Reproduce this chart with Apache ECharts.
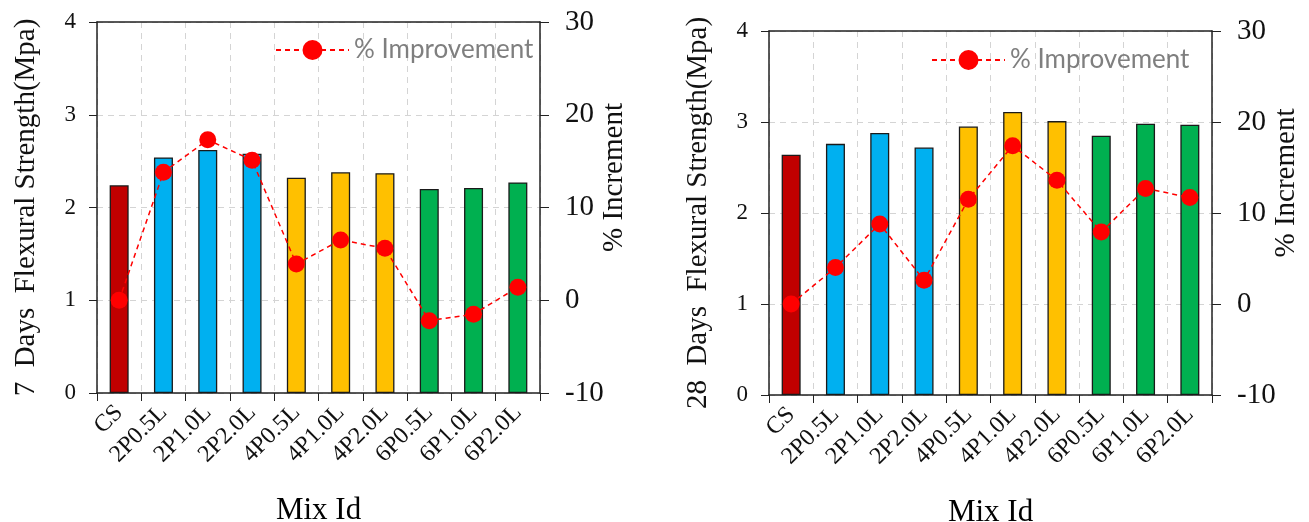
<!DOCTYPE html>
<html>
<head>
<meta charset="utf-8">
<script src="https://cdn.jsdelivr.net/npm/echarts@6/dist/echarts.min.js"></script>
<style>
  html, body { margin: 0; padding: 0; background: #fff; }
  #container { width: 1309px; height: 522px; }
</style>
</head>
<body>
<div id="container"></div>
<script>
var mixIds = ['CS', '2P0.5L', '2P1.0L', '2P2.0L', '4P0.5L', '4P1.0L', '4P2.0L', '6P0.5L', '6P1.0L', '6P2.0L'];

// 7 days
var strength7 = [2.24, 2.54, 2.62, 2.58, 2.32, 2.38, 2.37, 2.20, 2.21, 2.27];
var improve7 = [0, 13.8, 17.3, 15.1, 3.9, 6.5, 5.6, -2.2, -1.5, 1.4];

// 28 days
var strength28 = [2.64, 2.76, 2.88, 2.72, 2.95, 3.11, 3.01, 2.85, 2.98, 2.97];
var improve28 = [0, 4.0, 8.8, 2.6, 11.5, 17.4, 13.6, 7.9, 12.7, 11.7];

var barColors = ['#c00000', '#00b0f0', '#00b0f0', '#00b0f0', '#ffc000', '#ffc000', '#ffc000', '#00b050', '#00b050', '#00b050'];

var serif = 'Liberation Serif';

function barData(vals) {
    return vals.map(function (v, i) {
        return { value: v, itemStyle: { color: barColors[i] } };
    });
}

function xAxisCfg(gi) {
    return {
        type: 'category',
        gridIndex: gi,
        data: mixIds,
        name: 'Mix Id',
        nameLocation: 'middle',
        nameGap: 102,
        nameTextStyle: { fontFamily: serif, fontSize: 31, color: '#000' },
        axisLine: { onZero: false, lineStyle: { color: '#222', width: 1.5 } },
        axisTick: { show: true, length: 8, inside: false, lineStyle: { color: '#222' } },
        axisLabel: { rotate: 45, fontFamily: serif, fontSize: 24, color: '#111', margin: 16, interval: 0 },
        splitLine: { show: true, lineStyle: { color: '#d4d4d4', type: [6, 5] } }
    };
}

// plain line along the top of each plot
function topAxisCfg(gi) {
    return {
        type: 'category',
        gridIndex: gi,
        position: 'top',
        data: mixIds,
        axisLine: { onZero: false, lineStyle: { color: '#222', width: 1.5 } },
        axisTick: { show: false },
        axisLabel: { show: false },
        splitLine: { show: false }
    };
}

function leftAxisCfg(gi, name) {
    return {
        type: 'value',
        gridIndex: gi,
        min: 0, max: 4, interval: 1,
        name: name,
        nameLocation: 'middle',
        nameGap: 56,
        nameRotate: 90,
        nameTextStyle: { fontFamily: serif, fontSize: 29, color: '#111' },
        axisLine: { show: true, onZero: false, lineStyle: { color: '#222', width: 1.5 } },
        axisTick: { show: true, length: 8, lineStyle: { color: '#222' } },
        axisLabel: { fontFamily: serif, fontSize: 23, color: '#111', margin: 21 },
        splitLine: { show: true, lineStyle: { color: '#d4d4d4', type: [6, 5] } }
    };
}

function rightAxisCfg(gi) {
    return {
        type: 'value',
        gridIndex: gi,
        position: 'right',
        min: -10, max: 30, interval: 10,
        name: '% Increment',
        nameLocation: 'middle',
        nameGap: 60,
        nameMoveOverlap: false,
        nameRotate: 90,
        nameTextStyle: { fontFamily: serif, fontSize: 29, color: '#111', padding: [0, 0, 0, 60] },
        axisLine: { show: true, onZero: false, lineStyle: { color: '#222', width: 1.5 } },
        axisTick: { show: true, length: 9, lineStyle: { color: '#222' } },
        axisLabel: { fontFamily: serif, fontSize: 29, color: '#111', margin: 25 },
        splitLine: { show: false }
    };
}

function lineSeries(xi, yi, vals) {
    return {
        name: '% Improvement',
        type: 'line',
        xAxisIndex: xi,
        yAxisIndex: yi,
        data: vals,
        symbol: 'circle',
        symbolSize: 17,
        z: 5,
        itemStyle: { color: '#ff0000' },
        lineStyle: { color: '#ff0000', width: 1.5, type: [5, 4] }
    };
}

function barSeries(xi, yi, vals) {
    return {
        type: 'bar',
        xAxisIndex: xi,
        yAxisIndex: yi,
        data: barData(vals),
        barWidth: 19,
        itemStyle: { borderColor: '#1a1a1a', borderWidth: 1.3 }
    };
}

var legendText = { fontFamily: 'Lato', fontSize: 26, color: '#7f7f7f' };

var option = {
    animation: false,
    backgroundColor: '#fff',
    grid: [
        { left: 97, top: 22, width: 443, height: 371, outerBoundsMode: 'none' },
        { left: 769, top: 31, width: 443, height: 364, outerBoundsMode: 'none' }
    ],
    legend: [
        { data: ['% Improvement'], left: 270, top: 32, itemWidth: 73, itemHeight: 25, itemGap: 10, textStyle: legendText },
        { data: ['% Improvement'], left: 926, top: 42, itemWidth: 73, itemHeight: 25, itemGap: 10, textStyle: legendText }
    ],
    xAxis: [xAxisCfg(0), xAxisCfg(1), topAxisCfg(0), topAxisCfg(1)],
    yAxis: [
        leftAxisCfg(0, '7  Days  Flexural Strength(Mpa)'),
        rightAxisCfg(0),
        leftAxisCfg(1, '28  Days  Flexural Strength(Mpa)'),
        rightAxisCfg(1)
    ],
    series: [
        barSeries(0, 0, strength7),
        lineSeries(0, 1, improve7),
        barSeries(1, 2, strength28),
        lineSeries(1, 3, improve28)
    ]
};

var myChart = echarts.init(document.getElementById('container'));
myChart.setOption(option);
</script>
</body>
</html>
